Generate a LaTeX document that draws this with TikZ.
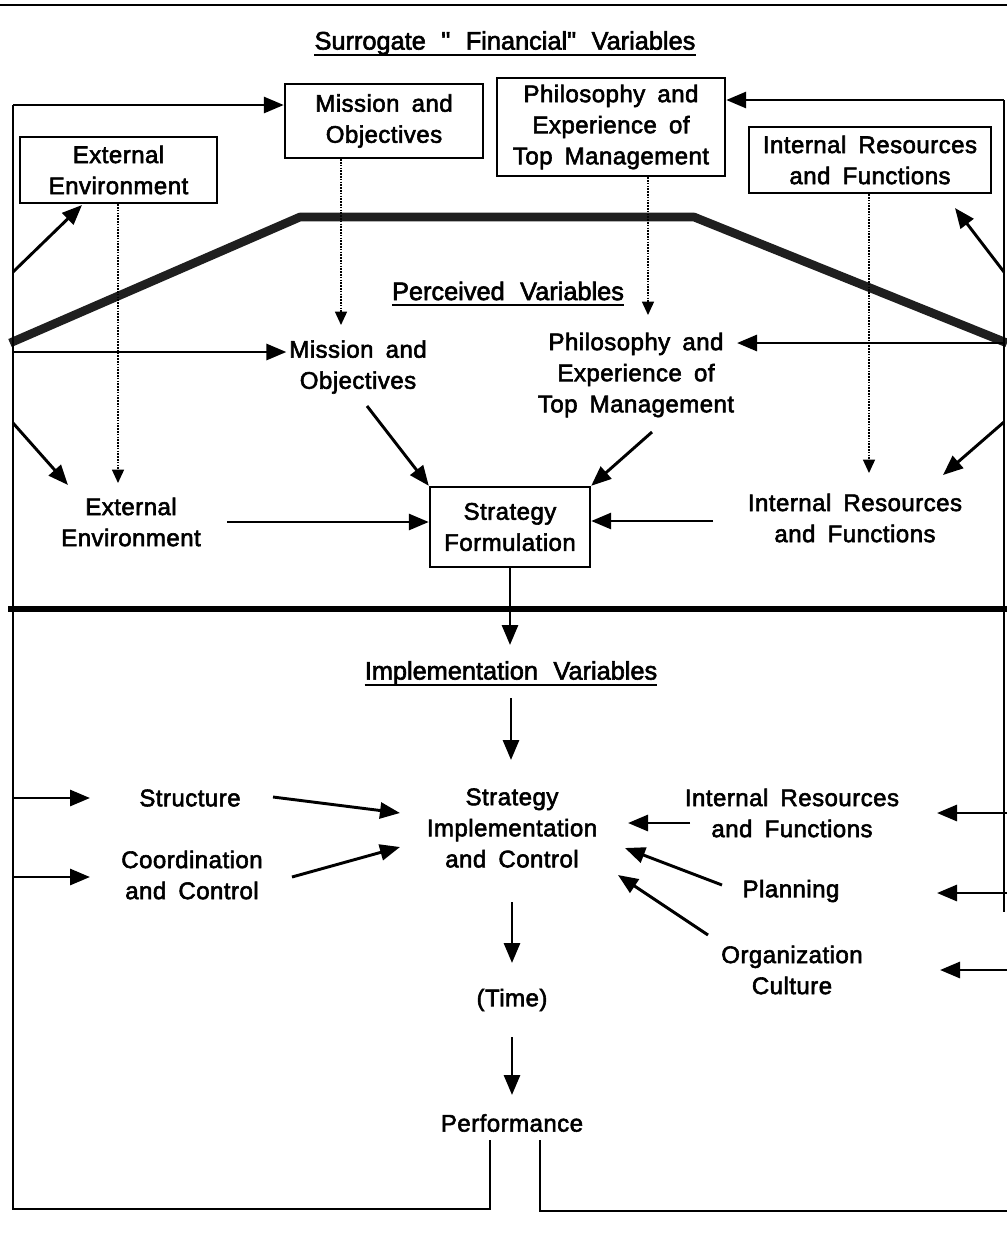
\documentclass[tikz,border=0pt]{standalone}
\usepackage{fontspec}
\setmainfont{Liberation Sans}[LetterSpace=2, WordSpace=1.7, FakeBold=2.4]
\newfontfamily\headfont{Liberation Sans}[WordSpace=2.2, FakeBold=2.4]
\usetikzlibrary{arrows.meta,calc}

\tikzset{
  lbl/.style={font=\fontsize{18pt}{23.3pt}\selectfont, align=center, inner sep=2pt},
  box/.style={lbl, draw, line width=1.8pt, inner sep=0pt},
  head/.style={font=\headfont\fontsize{19pt}{23pt}\selectfont, inner sep=0pt},
  arr/.style={line width=2.2pt, -{Triangle[length=15pt,width=12pt]}},
  dotarr/.style={line width=1pt, dash pattern=on 1.2pt off 0.9pt, -{Triangle[length=10pt,width=9pt]}},
  loopline/.style={line width=1.5pt},
  band/.style={line width=6.5pt, line join=round, black!88},
  divider/.style={line width=4.5pt},
  uline/.style={line width=1.6pt}
}

\begin{document}
\begin{tikzpicture}[x=0.75pt, y=-0.75pt]
\useasboundingbox (0,0) rectangle (1007,1233);

% rules across the page
\draw[line width=2.2pt] (0,5) -- (1007,5);
\draw[divider] (8,609) -- (1007,609);
\draw[band] (10,343) -- (300,217) -- (694,217) -- (1007,343);

% section headings
\node[head] (h1) at (505,43) {Surrogate " Financial" Variables};
\draw[uline] ([yshift=-4pt]h1.base west) -- ([yshift=-4pt]h1.base east);
\node[head] (h2) at (508,291) {Perceived Variables};
\draw[uline] ([yshift=-4pt]h2.base west) -- ([yshift=-4pt]h2.base east);
\node[head] (h3) at (511,673) {Implementation Variables};
\draw[uline] ([yshift=-4pt]h3.base west) -- ([yshift=-4pt]h3.base east);

% surrogate variables (boxed)
\node[box, minimum width=148.5pt, minimum height=55.5pt] (mis0) at (384,121) {Mission and\\Objectives};
\node[box, minimum width=171pt, minimum height=73.5pt] (phi0) at (611,127) {Philosophy and\\Experience of\\Top Management};
\node[box, minimum width=147.75pt, minimum height=49.5pt] (ext0) at (118.5,170) {External\\Environment};
\node[box, minimum width=181.5pt, minimum height=49.5pt] (int0) at (870,160) {Internal Resources\\and Functions};

% perceived variables
\node[lbl] (mis1) at (358,367) {Mission and\\Objectives};
\node[lbl] (phi1) at (636,375) {Philosophy and\\Experience of\\Top Management};
\node[lbl] (ext1) at (131,522) {External\\Environment};
\node[lbl] (int1) at (855,518) {Internal Resources\\and Functions};
\node[box, minimum width=120pt, minimum height=60pt] (sf) at (510,527) {Strategy\\Formulation};

% implementation variables
\node[lbl] (sic) at (512,828) {Strategy\\Implementation\\and Control};
\node[lbl] (str) at (190,798) {Structure};
\node[lbl] (coo) at (192,875) {Coordination\\and Control};
\node[lbl] (int2) at (792,813) {Internal Resources\\and Functions};
\node[lbl] (pla) at (791,891) {Planning};
\node[lbl] (org) at (792,970) {Organization\\Culture};
\node[lbl] (tim) at (512,1000) {(Time)};
\node[lbl] (perf) at (512,1123) {Performance};

% feedback loop around the whole model
\coordinate (lt) at (13,105);
\coordinate (lb) at (13,1209);
\coordinate (pbl) at (490,1209);
\coordinate (ptl) at (490,1140);
\coordinate (ptr) at (540,1140);
\coordinate (pbr) at (540,1211);
\coordinate (rbe) at (1007,1211);
\coordinate (rt) at (1004,100);
\coordinate (rbt) at (1004,912);
\draw[loopline] (ptl) -- (pbl) -- (lb) -- (lt);
\draw[loopline] (ptr) -- (pbr) -- (rbe);
\draw[loopline] (rt) -- (rbt);
\draw[line width=2.2pt] (pbl) -- (lb);
\draw[line width=2.2pt] (pbr) -- (rbe);

% feedback into the surrogate variables
\draw[arr] (lt) -- (lt -| mis0.west);
\draw[arr] (rt) -- (rt -| phi0.east);
\coordinate (l1) at (13,272);
\coordinate (e0) at (82,205);
\draw[arr] (l1) -- (e0);
\coordinate (r1) at (1004,272);
\coordinate (i0) at (955,208);
\draw[arr] (r1) -- (i0);

% surrogate to perceived (dotted)
\coordinate (d1) at (118,483);
\draw[dotarr] (d1 |- ext0.south) -- (d1);
\coordinate (d2) at (341,325);
\draw[dotarr] (d2 |- mis0.south) -- (d2);
\coordinate (d3) at (648,315);
\draw[dotarr] (d3 |- phi0.south) -- (d3);
\coordinate (d4) at (869,473);
\draw[dotarr] (d4 |- int0.south) -- (d4);

% feedback into the perceived variables
\coordinate (l2) at (13,352);
\draw[arr] (l2) -- (l2 -| mis1.west);
\coordinate (r2) at (1004,343);
\draw[arr] (r2) -- (r2 -| phi1.east);
\coordinate (l3) at (13,423);
\coordinate (e1) at (68,485);
\draw[arr] (l3) -- (e1);
\coordinate (r3) at (1004,422);
\coordinate (i1) at (943,475);
\draw[arr] (r3) -- (i1);

% perceived variables into strategy formulation
\coordinate (a1) at (227,522);
\draw[arr] (a1) -- (a1 -| sf.west);
\coordinate (a2) at (367,406);
\draw[arr] (a2) -- (sf.north west);
\coordinate (a3) at (652,432);
\draw[arr] (a3) -- (sf.north east);
\coordinate (a4) at (713,521);
\draw[arr] (a4) -- (a4 -| sf.east);

% formulation to implementation
\coordinate (f1) at (510,645);
\draw[arr] (sf.south) -- (f1);
\coordinate (f2) at (511,698);
\coordinate (f3) at (511,760);
\draw[arr] (f2) -- (f3);

% feedback into implementation variables
\coordinate (l4) at (13,798);
\draw[arr] (l4) -- (90,798);
\coordinate (l5) at (13,877);
\draw[arr] (l5) -- (90,877);
\coordinate (r4) at (1007,813);
\draw[arr] (r4) -- (937,813);
\coordinate (r5) at (1007,893);
\draw[arr] (r5) -- (937,893);
\coordinate (r6) at (1007,970);
\draw[arr] (r6) -- (940,970);

% implementation variables into strategy implementation
\coordinate (s1) at (273,797);
\coordinate (s1t) at (400,813);
\draw[arr] (s1) -- (s1t);
\coordinate (s2) at (292,877);
\coordinate (s2t) at (400,847);
\draw[arr] (s2) -- (s2t);
\coordinate (s3) at (690,823);
\coordinate (s3t) at (628,823);
\draw[arr] (s3) -- (s3t);
\coordinate (s4) at (722,885);
\coordinate (s4t) at (625,848);
\draw[arr] (s4) -- (s4t);
\coordinate (s5) at (708,935);
\coordinate (s5t) at (618,875);
\draw[arr] (s5) -- (s5t);

% over time to performance
\coordinate (t1) at (512,902);
\coordinate (t2) at (512,963);
\draw[arr] (t1) -- (t2);
\coordinate (t3) at (512,1037);
\coordinate (t4) at (512,1095);
\draw[arr] (t3) -- (t4);
\end{tikzpicture}
\end{document}
